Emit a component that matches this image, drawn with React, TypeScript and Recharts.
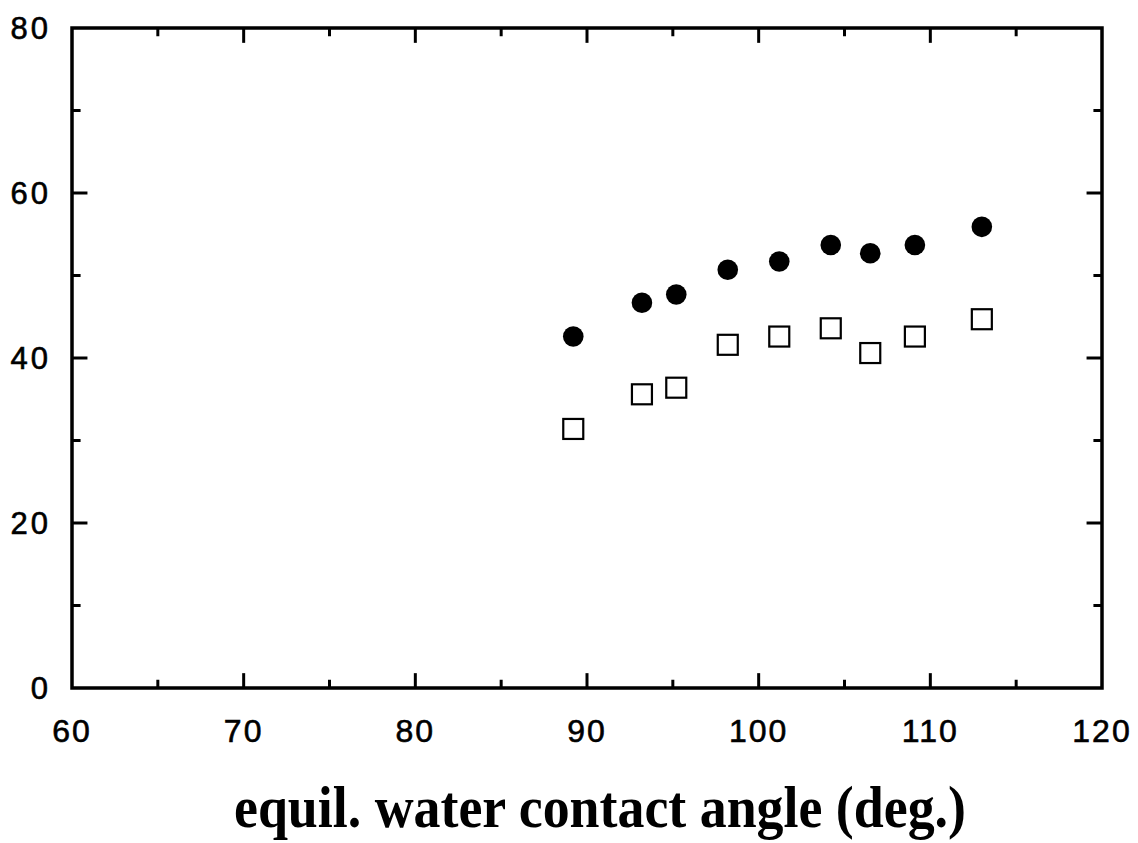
import React from 'react';
import {
  ScatterChart,
  Scatter,
  XAxis,
  YAxis,
  ReferenceArea,
  ReferenceLine,
} from 'recharts';

// contact angle of each sample (deg.)
const angles = [89.2, 93.2, 95.2, 98.2, 101.2, 104.2, 106.5, 109.1, 113.0];
// filled circles
const upperValues = [42.6, 46.7, 47.7, 50.7, 51.7, 53.7, 52.7, 53.7, 55.9];
// open squares
const lowerValues = [31.4, 35.6, 36.4, 41.6, 42.6, 43.6, 40.6, 42.6, 44.7];

const xTicks = [60, 70, 80, 90, 100, 110, 120];
const xMinorTicks = [65, 75, 85, 95, 105, 115];
const yTicks = [0, 20, 40, 60, 80];
const yMinorTicks = [10, 30, 50, 70];

const X_MIN = 60;
const X_MAX = 120;
const Y_MIN = 0;
const Y_MAX = 80;

const upperData = angles.map((x, i) => ({ x, y: upperValues[i] }));
const lowerData = angles.map((x, i) => ({ x, y: lowerValues[i] }));

const SANS = '"Liberation Sans", Arial, Helvetica, sans-serif';
const SERIF = '"Liberation Serif", "Times New Roman", serif';

// inward tick lengths, in data units
const X_MAJOR_LEN = 1.8;
const X_MINOR_LEN = 1.0;
const Y_MAJOR_LEN = 0.9;
const Y_MINOR_LEN = 0.5;

const Dot = (props: any) => <circle cx={props.cx} cy={props.cy} r={10.3} fill="#000" />;

const Box = (props: any) => (
  <rect
    x={props.cx - 10}
    y={props.cy - 10}
    width={20}
    height={20}
    fill="#fff"
    stroke="#000"
    strokeWidth={2.2}
  />
);

const XTick = (props: any) => (
  <text
    x={props.x}
    y={props.y + 54}
    textAnchor="middle"
    fontFamily={SANS}
    fontSize={32}
    letterSpacing={2}
    stroke="#000"
    strokeWidth={0.6}
    fill="#000"
  >
    {props.payload.value}
  </text>
);

const YTick = (props: any) => (
  <text
    x={props.x - 21}
    y={props.y + 11}
    textAnchor="end"
    fontFamily={SANS}
    fontSize={31}
    letterSpacing={3}
    stroke="#000"
    strokeWidth={0.6}
    fill="#000"
  >
    {props.payload.value}
  </text>
);

const Title = (props: any) => {
  const vb = props.viewBox;
  return (
    <text
      x={vb.x + vb.width / 2 + 13}
      y={vb.y + 139}
      textAnchor="middle"
      fontFamily={SERIF}
      fontWeight="bold"
      fontSize={59}
      textLength={732}
      lengthAdjust="spacingAndGlyphs"
      fill="#000"
    >
      equil. water contact angle (deg.)
    </text>
  );
};

const tickStyle = { stroke: '#000', strokeWidth: 3 };

export default function App() {
  const inner = (v: number) => v > X_MIN && v < X_MAX;
  const innerY = (v: number) => v > Y_MIN && v < Y_MAX;

  return (
    <div style={{ position: 'absolute', left: 0, top: 0, background: '#fff' }}>
      <ScatterChart
        width={1138}
        height={843}
        margin={{ top: 28, right: 36, bottom: 85, left: 12 }}
      >
        <XAxis
          dataKey="x"
          type="number"
          domain={[X_MIN, X_MAX]}
          ticks={xTicks}
          tick={<XTick />}
          tickLine={false}
          axisLine={false}
          tickSize={0}
          tickMargin={0}
          height={70}
          interval={0}
          label={<Title />}
        />
        <YAxis
          dataKey="y"
          type="number"
          domain={[Y_MIN, Y_MAX]}
          ticks={yTicks}
          tick={<YTick />}
          tickLine={false}
          axisLine={false}
          tickSize={0}
          tickMargin={0}
          width={60}
          interval={0}
        />

        {xTicks.filter(inner).map((v) => (
          <ReferenceLine
            key={'xb' + v}
            segment={[{ x: v, y: Y_MIN }, { x: v, y: Y_MIN + X_MAJOR_LEN }]}
            {...tickStyle}
          />
        ))}
        {xTicks.filter(inner).map((v) => (
          <ReferenceLine
            key={'xt' + v}
            segment={[{ x: v, y: Y_MAX }, { x: v, y: Y_MAX - X_MAJOR_LEN }]}
            {...tickStyle}
          />
        ))}
        {xMinorTicks.map((v) => (
          <ReferenceLine
            key={'xmb' + v}
            segment={[{ x: v, y: Y_MIN }, { x: v, y: Y_MIN + X_MINOR_LEN }]}
            {...tickStyle}
          />
        ))}
        {xMinorTicks.map((v) => (
          <ReferenceLine
            key={'xmt' + v}
            segment={[{ x: v, y: Y_MAX }, { x: v, y: Y_MAX - X_MINOR_LEN }]}
            {...tickStyle}
          />
        ))}
        {yTicks.filter(innerY).map((v) => (
          <ReferenceLine
            key={'yl' + v}
            segment={[{ x: X_MIN, y: v }, { x: X_MIN + Y_MAJOR_LEN, y: v }]}
            {...tickStyle}
          />
        ))}
        {yTicks.filter(innerY).map((v) => (
          <ReferenceLine
            key={'yr' + v}
            segment={[{ x: X_MAX, y: v }, { x: X_MAX - Y_MAJOR_LEN, y: v }]}
            {...tickStyle}
          />
        ))}
        {yMinorTicks.map((v) => (
          <ReferenceLine
            key={'yml' + v}
            segment={[{ x: X_MIN, y: v }, { x: X_MIN + Y_MINOR_LEN, y: v }]}
            {...tickStyle}
          />
        ))}
        {yMinorTicks.map((v) => (
          <ReferenceLine
            key={'ymr' + v}
            segment={[{ x: X_MAX, y: v }, { x: X_MAX - Y_MINOR_LEN, y: v }]}
            {...tickStyle}
          />
        ))}

        {/* plot frame */}
        <ReferenceArea
          x1={X_MIN}
          x2={X_MAX}
          y1={Y_MIN}
          y2={Y_MAX}
          fill="none"
          fillOpacity={0}
          stroke="#000"
          strokeWidth={3.5}
        />

        <Scatter data={upperData} shape={<Dot />} isAnimationActive={false} />
        <Scatter data={lowerData} shape={<Box />} isAnimationActive={false} />
      </ScatterChart>
    </div>
  );
}
